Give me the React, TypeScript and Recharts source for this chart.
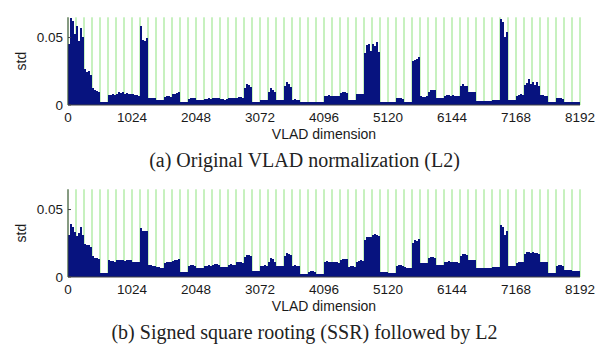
import { BarChart, Bar, XAxis, YAxis, CartesianGrid } from 'recharts';

const DIMS = 8192;
const CLUSTER_SIZE = 128;
const BIN_SIZE = 32;
const STD_MAX = 0.065;
const DIM_TICKS = [0, 1024, 2048, 3072, 4096, 5120, 6144, 7168, 8192];
const STD_TICKS = [0, 0.05];
const CLUSTER_EDGES = Array.from({ length: DIMS / CLUSTER_SIZE + 1 }, (_, k) => k * CLUSTER_SIZE);

// std of each 32-dim bin (4 bins per 128-dim cluster)
const L2_STD = [
    0.045, 0.064, 0.062, 0.052, 0.058, 0.047, 0.057, 0.05, 0.026, 0.024, 0.025, 0.022, 0.012, 0.011, 0.01, 0.009,
    0.002, 0.002, 0.002, 0.002, 0.007, 0.007, 0.0075, 0.007, 0.008, 0.009, 0.0085, 0.009, 0.008, 0.0085, 0.008, 0.0075,
    0.0075, 0.007, 0.007, 0.0065, 0.058, 0.048, 0.047, 0.049, 0.005, 0.005, 0.0045, 0.0045, 0.003, 0.003, 0.003, 0.003,
    0.0055, 0.006, 0.006, 0.0055, 0.0075, 0.008, 0.0085, 0.009, 0.002, 0.002, 0.002, 0.002, 0.004, 0.005, 0.005, 0.0045,
    0.003, 0.003, 0.003, 0.003, 0.004, 0.004, 0.0045, 0.004, 0.0045, 0.005, 0.005, 0.005, 0.004, 0.004, 0.0035, 0.004,
    0.005, 0.005, 0.005, 0.0045, 0.005, 0.0055, 0.0055, 0.005, 0.012, 0.015, 0.0145, 0.013, 0.002, 0.002, 0.002, 0.002,
    0.003, 0.003, 0.0035, 0.003, 0.009, 0.0125, 0.011, 0.009, 0.0035, 0.0035, 0.0035, 0.0035, 0.0135, 0.017, 0.0155, 0.013,
    0.0035, 0.004, 0.0035, 0.0035, 0.0015, 0.0015, 0.0015, 0.0015, 0.0017, 0.0017, 0.0017, 0.0017, 0.0015, 0.0017, 0.0017, 0.0015,
    0.0065, 0.0065, 0.0068, 0.0065, 0.0065, 0.0062, 0.0065, 0.0062, 0.0085, 0.0095, 0.009, 0.0085, 0.0035, 0.0037, 0.0037, 0.0035,
    0.0075, 0.008, 0.0078, 0.0075, 0.038, 0.044, 0.045, 0.04, 0.045, 0.043, 0.046, 0.039, 0.0017, 0.0017, 0.0017, 0.0017,
    0.0017, 0.0017, 0.0017, 0.0017, 0.0045, 0.005, 0.0045, 0.004, 0.002, 0.002, 0.002, 0.002, 0.032, 0.033, 0.034, 0.035,
    0.006, 0.0055, 0.0055, 0.006, 0.0095, 0.0105, 0.011, 0.0105, 0.0045, 0.0045, 0.0045, 0.0045, 0.0065, 0.007, 0.0068, 0.0065,
    0.0068, 0.0065, 0.0065, 0.006, 0.0135, 0.0155, 0.014, 0.0135, 0.0095, 0.009, 0.0095, 0.009, 0.0027, 0.0027, 0.0027, 0.0027,
    0.0025, 0.0025, 0.0025, 0.0025, 0.0037, 0.0037, 0.0037, 0.0037, 0.063, 0.061, 0.05, 0.054, 0.0037, 0.0037, 0.0037, 0.0037,
    0.006, 0.007, 0.0075, 0.007, 0.0145, 0.016, 0.019, 0.015, 0.017, 0.0145, 0.0165, 0.014, 0.007, 0.007, 0.0065, 0.006,
    0.0017, 0.0017, 0.0017, 0.0017, 0.0045, 0.0048, 0.0045, 0.0042, 0.002, 0.002, 0.002, 0.002, 0.0017, 0.0017, 0.0017, 0.0017,
];

const SSR_STD = [
    0.031, 0.039, 0.037, 0.033, 0.03, 0.032, 0.037, 0.031, 0.024, 0.023, 0.023, 0.022, 0.015, 0.014, 0.014, 0.013,
    0.0025, 0.0025, 0.0025, 0.0025, 0.012, 0.0115, 0.0115, 0.011, 0.012, 0.0125, 0.012, 0.012, 0.0115, 0.012, 0.0125, 0.012,
    0.011, 0.011, 0.0105, 0.0105, 0.036, 0.034, 0.034, 0.034, 0.0085, 0.0085, 0.008, 0.008, 0.0068, 0.0068, 0.0065, 0.0065,
    0.01, 0.0105, 0.0105, 0.011, 0.0115, 0.012, 0.0125, 0.013, 0.003, 0.003, 0.003, 0.003, 0.008, 0.0085, 0.0085, 0.008,
    0.006, 0.006, 0.006, 0.006, 0.008, 0.008, 0.0085, 0.008, 0.0085, 0.009, 0.009, 0.0085, 0.007, 0.007, 0.0068, 0.007,
    0.0085, 0.009, 0.0088, 0.0085, 0.0105, 0.0105, 0.0105, 0.01, 0.0145, 0.016, 0.016, 0.0155, 0.004, 0.004, 0.004, 0.004,
    0.008, 0.008, 0.0085, 0.008, 0.011, 0.0135, 0.013, 0.011, 0.008, 0.008, 0.008, 0.008, 0.0155, 0.0175, 0.017, 0.016,
    0.008, 0.0085, 0.008, 0.008, 0.002, 0.0022, 0.0022, 0.002, 0.0035, 0.004, 0.004, 0.0035, 0.0022, 0.0022, 0.0022, 0.0022,
    0.011, 0.0112, 0.011, 0.011, 0.0105, 0.0105, 0.0105, 0.0102, 0.0125, 0.013, 0.0132, 0.0128, 0.0072, 0.0075, 0.0075, 0.0072,
    0.011, 0.0118, 0.012, 0.0115, 0.027, 0.029, 0.0295, 0.029, 0.031, 0.0315, 0.031, 0.03, 0.003, 0.003, 0.003, 0.003,
    0.0025, 0.0025, 0.0025, 0.0025, 0.008, 0.0088, 0.0085, 0.008, 0.0068, 0.0066, 0.0062, 0.006, 0.025, 0.027, 0.0265, 0.028,
    0.0098, 0.0098, 0.0098, 0.0098, 0.0135, 0.0142, 0.0142, 0.014, 0.0082, 0.0084, 0.0084, 0.0082, 0.0105, 0.011, 0.0112, 0.011,
    0.0105, 0.0108, 0.0104, 0.0102, 0.0155, 0.017, 0.0165, 0.016, 0.0125, 0.0125, 0.012, 0.0122, 0.0062, 0.0062, 0.0062, 0.006,
    0.006, 0.006, 0.006, 0.006, 0.007, 0.0072, 0.0072, 0.0072, 0.038, 0.037, 0.031, 0.034, 0.0078, 0.008, 0.008, 0.008,
    0.0102, 0.0104, 0.0106, 0.0104, 0.017, 0.018, 0.0185, 0.0175, 0.018, 0.0172, 0.0175, 0.0165, 0.011, 0.011, 0.0108, 0.0105,
    0.0025, 0.0025, 0.0025, 0.0025, 0.008, 0.0082, 0.0082, 0.008, 0.0045, 0.0045, 0.0045, 0.0045, 0.004, 0.004, 0.004, 0.004,
];

const CAPTION_A = '(a) Original VLAD normalization (L2)';
const CAPTION_B = '(b) Signed square rooting (SSR) followed by L2';

const NAVY = '#07137f';
const GREEN = '#8fe37f';
const AXIS = '#444';
const SANS = '"Liberation Sans", Arial, sans-serif';

function StdPanel({ values, top, caption }: { values: number[]; top: number; caption: string }) {
    // bars sit at the centre of their 32-dim bin
    const rows = values.map((std, i) => ({ dim: i * BIN_SIZE + BIN_SIZE / 2, std }));
    return (
        <>
            <div style={{ position: 'absolute', left: 0, top, width: 609, height: 145 }}>
                <BarChart
                    width={609}
                    height={145}
                    data={rows}
                    margin={{ top: 17.3, right: 29, bottom: 0, left: 0 }}
                    barCategoryGap={0}
                    barGap={0}
                >
                    {/* one green line per 128-dim cluster, kept behind the bars */}
                    <CartesianGrid horizontal={false} verticalValues={CLUSTER_EDGES} stroke={GREEN} strokeWidth={1} fill="none" />
                    <XAxis
                        dataKey="dim"
                        type="number"
                        domain={[0, DIMS]}
                        allowDataOverflow
                        ticks={DIM_TICKS}
                        interval={0}
                        height={40}
                        tickLine={false}
                        tickSize={4}
                        tickMargin={3}
                        stroke={AXIS}
                        tick={{ fontSize: 13.5, fill: '#1a1a1a', fontFamily: SANS }}
                        label={{ value: 'VLAD dimension', position: 'insideBottom', offset: 6.5, fontSize: 14, fill: '#1a1a1a', fontFamily: SANS }}
                    />
                    <XAxis
                        xAxisId="top"
                        orientation="top"
                        type="number"
                        domain={[0, DIMS]}
                        allowDataOverflow
                        ticks={DIM_TICKS}
                        interval={0}
                        tick={false}
                        tickSize={-3}
                        height={0}
                        stroke="#7a7a7a"
                    />
                    <YAxis
                        domain={[0, STD_MAX]}
                        allowDataOverflow
                        ticks={STD_TICKS}
                        width={68}
                        tickSize={-3}
                        tickMargin={8}
                        stroke={AXIS}
                        tickFormatter={(v: number) => (v === 0 ? '0' : v.toFixed(2))}
                        tick={{ fontSize: 13.5, fill: '#1a1a1a', fontFamily: SANS }}
                        label={{ value: 'std', angle: -90, position: 'insideLeft', offset: 21, fontSize: 14, fill: '#1a1a1a', fontFamily: SANS, style: { textAnchor: 'middle' } }}
                    />
                    <YAxis
                        yAxisId="right"
                        orientation="right"
                        domain={[0, STD_MAX]}
                        allowDataOverflow
                        ticks={STD_TICKS}
                        width={0}
                        tick={false}
                        tickSize={-3}
                        axisLine={false}
                        stroke="#7a7a7a"
                    />
                    <Bar
                        dataKey="std"
                        fill={NAVY}
                        stroke={NAVY}
                        strokeWidth={1}
                        barSize={2}
                        shapeRendering="crispEdges"
                        isAnimationActive={false}
                    />
                </BarChart>
            </div>
            <div
                style={{
                    position: 'absolute',
                    left: 0,
                    top: top + 149.5,
                    width: 609,
                    textAlign: 'center',
                    fontFamily: '"Liberation Serif", "Times New Roman", serif',
                    fontSize: 20,
                    lineHeight: '20px',
                    color: '#222',
                }}
            >
                {caption}
            </div>
        </>
    );
}

export default function App() {
    return (
        <div style={{ position: 'absolute', left: 0, top: 0, width: 609, height: 348, background: '#fff' }}>
            <StdPanel values={L2_STD} top={0} caption={CAPTION_A} />
            <StdPanel values={SSR_STD} top={172} caption={CAPTION_B} />
        </div>
    );
}
